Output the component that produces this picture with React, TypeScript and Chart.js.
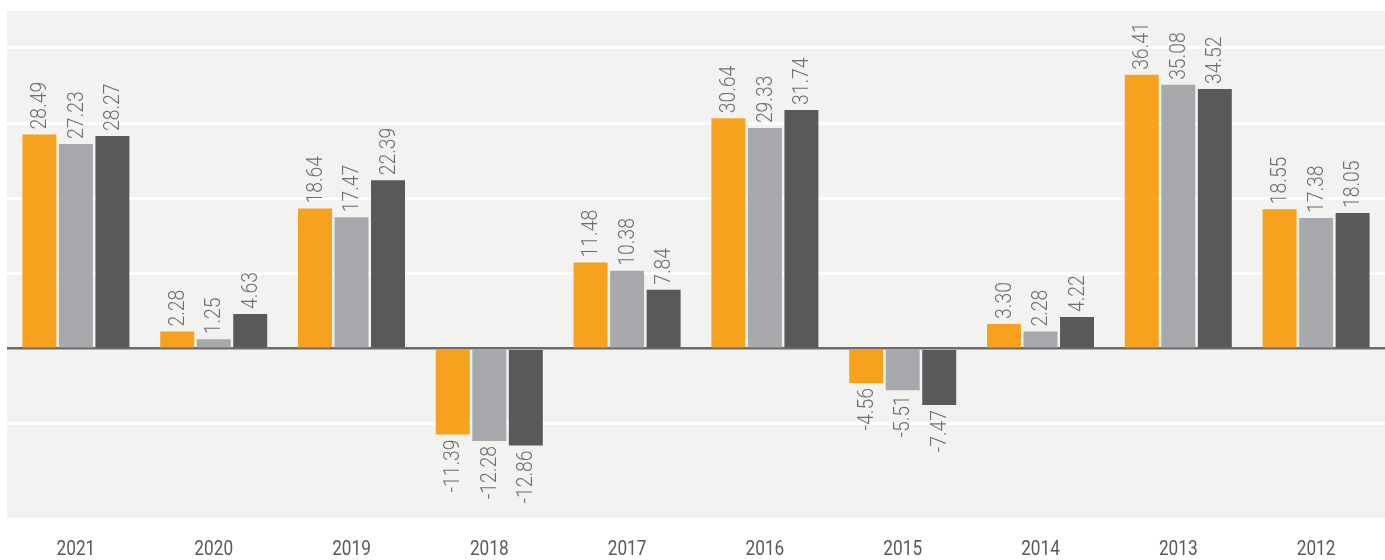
import React, { useEffect, useRef } from "react";
import { Chart, registerables } from "chart.js";

Chart.register(...registerables);

const categories = ["2021", "2020", "2019", "2018", "2017", "2016", "2015", "2014", "2013", "2012"];
const seriesA = [28.49, 2.28, 18.64, -11.39, 11.48, 30.64, -4.56, 3.3, 36.41, 18.55];
const seriesB = [27.23, 1.25, 17.47, -12.28, 10.38, 29.33, -5.51, 2.28, 35.08, 17.38];
const seriesC = [28.27, 4.63, 22.39, -12.86, 7.84, 31.74, -7.47, 4.22, 34.52, 18.05];

const FONT = "Roboto, 'Noto Sans', sans-serif";

const bgPlugin = {
  id: "plotBg",
  beforeDraw(chart: any) {
    const { ctx, chartArea } = chart;
    ctx.save();
    ctx.fillStyle = "#f2f2f1";
    ctx.fillRect(chartArea.left, chartArea.top, chartArea.right - chartArea.left, chartArea.bottom - chartArea.top);
    ctx.restore();
  },
};

const labelPlugin = {
  id: "barLabels",
  afterDatasetsDraw(chart: any) {
    const { ctx, chartArea } = chart;
    ctx.save();
    // bar value labels (rotated, condensed)
    ctx.font = `300 22.5px ${FONT}`;
    ctx.fillStyle = "#6d6e71";
    ctx.textBaseline = "middle";
    chart.data.datasets.forEach((ds: any, di: number) => {
      const meta = chart.getDatasetMeta(di);
      meta.data.forEach((bar: any, i: number) => {
        const v = ds.data[i] as number;
        const text = v.toFixed(2);
        ctx.save();
        ctx.translate(bar.x, bar.y);
        ctx.rotate(-Math.PI / 2);
        ctx.scale(0.86, 1);
        if (v >= 0) {
          ctx.textAlign = "left";
          ctx.fillText(text, 5 / 0.86, 1);
        } else {
          ctx.textAlign = "right";
          ctx.fillText(text, -5 / 0.86, 1);
        }
        ctx.restore();
      });
    });
    // category labels
    const xs = chart.scales.x;
    ctx.font = `21px ${FONT}`;
    ctx.fillStyle = "#58595b";
    ctx.textAlign = "center";
    ctx.textBaseline = "middle";
    categories.forEach((c, i) => {
      const x = xs.getPixelForValue(i);
      ctx.save();
      ctx.translate(x, chartArea.bottom + 32);
      ctx.scale(0.82, 1);
      ctx.fillText(c, 0, 0);
      ctx.restore();
    });
    ctx.restore();
  },
};

export default function App() {
  const ref = useRef<HTMLCanvasElement | null>(null);
  useEffect(() => {
    document.body.style.margin = "0";
    const c = ref.current!;
    const chart = new Chart(c, {
      type: "bar",
      data: {
        labels: categories,
        datasets: [
          { data: seriesA, backgroundColor: "#f7a21e" },
          { data: seriesB, backgroundColor: "#a7a8ab" },
          { data: seriesC, backgroundColor: "#58595b" },
        ],
      },
      options: {
        animation: false,
        responsive: false,
        maintainAspectRatio: false,
        layout: { padding: { top: 11, left: 7, right: 0, bottom: 42 } },
        datasets: { bar: { categoryPercentage: 0.795, barPercentage: 0.93 } },
        plugins: { legend: { display: false }, tooltip: { enabled: false } },
        scales: {
          x: {
            grid: { display: false, drawTicks: false },
            border: { display: false },
            ticks: { display: false },
          },
          y: {
            min: -22.5,
            max: 44.9,
            border: { display: false },
            ticks: { display: false, stepSize: 10 },
            grid: {
              drawTicks: false,
              lineWidth: (ctx: any) => (ctx.tick && ctx.tick.value === 0 ? 2.5 : 3),
              color: (ctx: any) => {
                const v = ctx.tick ? ctx.tick.value : 1;
                if (v === 0) return "#6b6b6b";
                if (Math.abs(v % 10) > 1e-6 || v < -10) return "rgba(0,0,0,0)";
                return "#ffffff";
              },
            },
          },
        },
      },
      plugins: [bgPlugin, labelPlugin],
    });
    return () => chart.destroy();
  }, []);
  return (
    <div style={{ width: 1385, height: 560 }}>
      <canvas ref={ref} width={1385} height={560} style={{ display: "block" }} />
    </div>
  );
}
